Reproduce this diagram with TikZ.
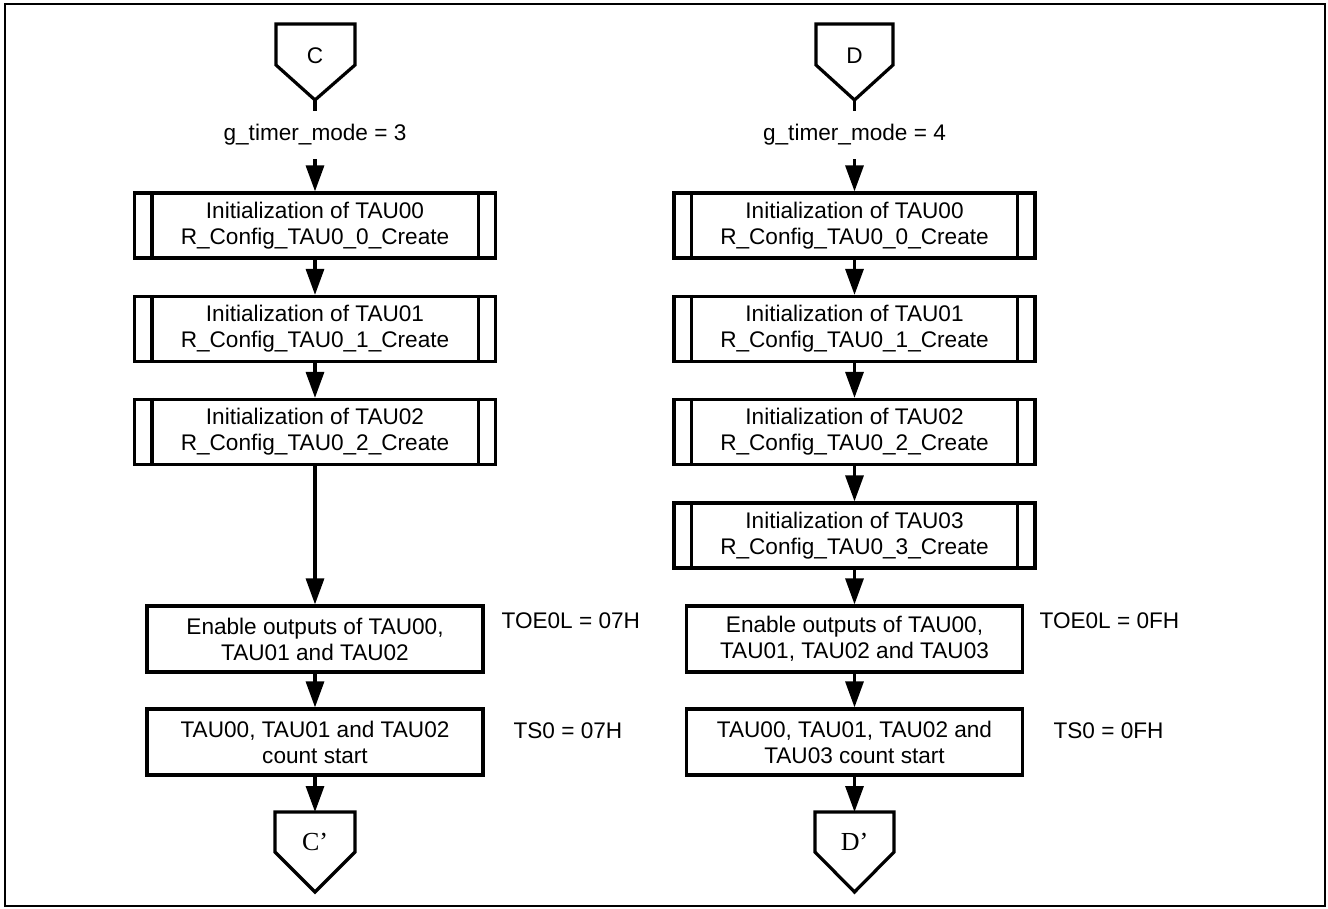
\documentclass[tikz,border=0pt]{standalone}
\usepackage{fontspec}
\setmainfont{Liberation Sans}
\newfontfamily\timesfont{Liberation Serif}
\usetikzlibrary{arrows.meta}

\begin{document}
\begin{tikzpicture}[x=1pt,y=-1pt,
  line width=3.2pt, line join=miter,
  every node/.style={font=\fontsize{22.6pt}{26pt}\selectfont},
  box/.style={draw, rectangle, align=center, inner sep=0pt},
  subproc/.style={box, minimum width=361pt, minimum height=65pt},
  procbox/.style={box, minimum width=336pt, minimum height=66pt},
  lbl/.style={inner sep=0pt, text height=16pt, text depth=5pt},
  cond/.style={lbl, minimum height=45pt},
  serifconn/.style={lbl, font=\fontsize{26pt}{30pt}\timesfont},
  arr/.style={-{Triangle[width=18pt,length=26pt]}},
]
\useasboundingbox (0,0) rectangle (1328,909);
% frame
\draw[line width=2.8pt] (5,4) rectangle (1325,906);

% ---------------- left column (mode 3) ----------------
\draw (276,24) -- (355,24) -- (355,65) -- (315,100) -- (276,65) -- cycle;
\node[lbl] (C) at (315,58.5) {C};
\coordinate (Ctip) at (315,100);
\node[cond] (gC) at (315,135) {g\_timer\_mode = 3};

\node[subproc] (L1) at (315,225.5) {Initialization of TAU00\\R\_Config\_TAU0\_0\_Create};
\node[subproc] (L2) at (315,329) {Initialization of TAU01\\R\_Config\_TAU0\_1\_Create};
\node[subproc] (L3) at (315,432) {Initialization of TAU02\\R\_Config\_TAU0\_2\_Create};
\node[procbox] (L4) at (315,639) {Enable outputs of TAU00,\\TAU01 and TAU02};
\node[procbox] (L5) at (315,742) {TAU00, TAU01 and TAU02\\count start};
\node[lbl, anchor=west] (L4n) at (500,622.5) {TOE0L = 07H};
\node[lbl, anchor=west] (L5n) at (512,732.5) {TS0 = 07H};

\draw (275,812) -- (355,812) -- (355,852) -- (315,892) -- (275,852) -- cycle;
\node[serifconn] (Cp) at (315,845) {C’};
\coordinate (Cptop) at (315,812);

% ---------------- right column (mode 4) ----------------
\draw (816,24) -- (893,24) -- (893,65) -- (854.5,100) -- (816,65) -- cycle;
\node[lbl] (D) at (854.5,58.5) {D};
\coordinate (Dtip) at (854.5,100);
\node[cond] (gD) at (854.5,135) {g\_timer\_mode = 4};

\node[subproc] (R1) at (854.5,225.5) {Initialization of TAU00\\R\_Config\_TAU0\_0\_Create};
\node[subproc] (R2) at (854.5,329) {Initialization of TAU01\\R\_Config\_TAU0\_1\_Create};
\node[subproc] (R3) at (854.5,432) {Initialization of TAU02\\R\_Config\_TAU0\_2\_Create};
\node[subproc] (R4) at (854.5,535.5) {Initialization of TAU03\\R\_Config\_TAU0\_3\_Create};
\node[procbox] (R5) at (854.5,639) {Enable outputs of TAU00,\\TAU01, TAU02 and TAU03};
\node[procbox] (R6) at (854.5,742) {TAU00, TAU01, TAU02 and\\TAU03 count start};
\node[lbl, anchor=west] (R5n) at (1038,622.5) {TOE0L = 0FH};
\node[lbl, anchor=west] (R6n) at (1052,732.5) {TS0 = 0FH};

\draw (815,812) -- (894,812) -- (894,852) -- (854.5,892) -- (815,852) -- cycle;
\node[serifconn] (Dp) at (854.5,845) {D’};
\coordinate (Dptop) at (854.5,812);

% double side bars of the predefined-process boxes
\foreach \n in {L1,L2,L3,R1,R2,R3,R4}{
  \draw ([xshift=19pt]\n.north west) -- ([xshift=19pt]\n.south west);
  \draw ([xshift=-19pt]\n.north east) -- ([xshift=-19pt]\n.south east);
}

% connectors
\draw (Ctip) -- (gC);
\draw[arr] (gC) -- (L1);
\draw[arr] (L1) -- (L2);
\draw[arr] (L2) -- (L3);
\draw[arr] (L3) -- (L4);
\draw[arr] (L4) -- (L5);
\draw[arr] (L5) -- (Cptop);

\draw (Dtip) -- (gD);
\draw[arr] (gD) -- (R1);
\draw[arr] (R1) -- (R2);
\draw[arr] (R2) -- (R3);
\draw[arr] (R3) -- (R4);
\draw[arr] (R4) -- (R5);
\draw[arr] (R5) -- (R6);
\draw[arr] (R6) -- (Dptop);
\end{tikzpicture}
\end{document}
